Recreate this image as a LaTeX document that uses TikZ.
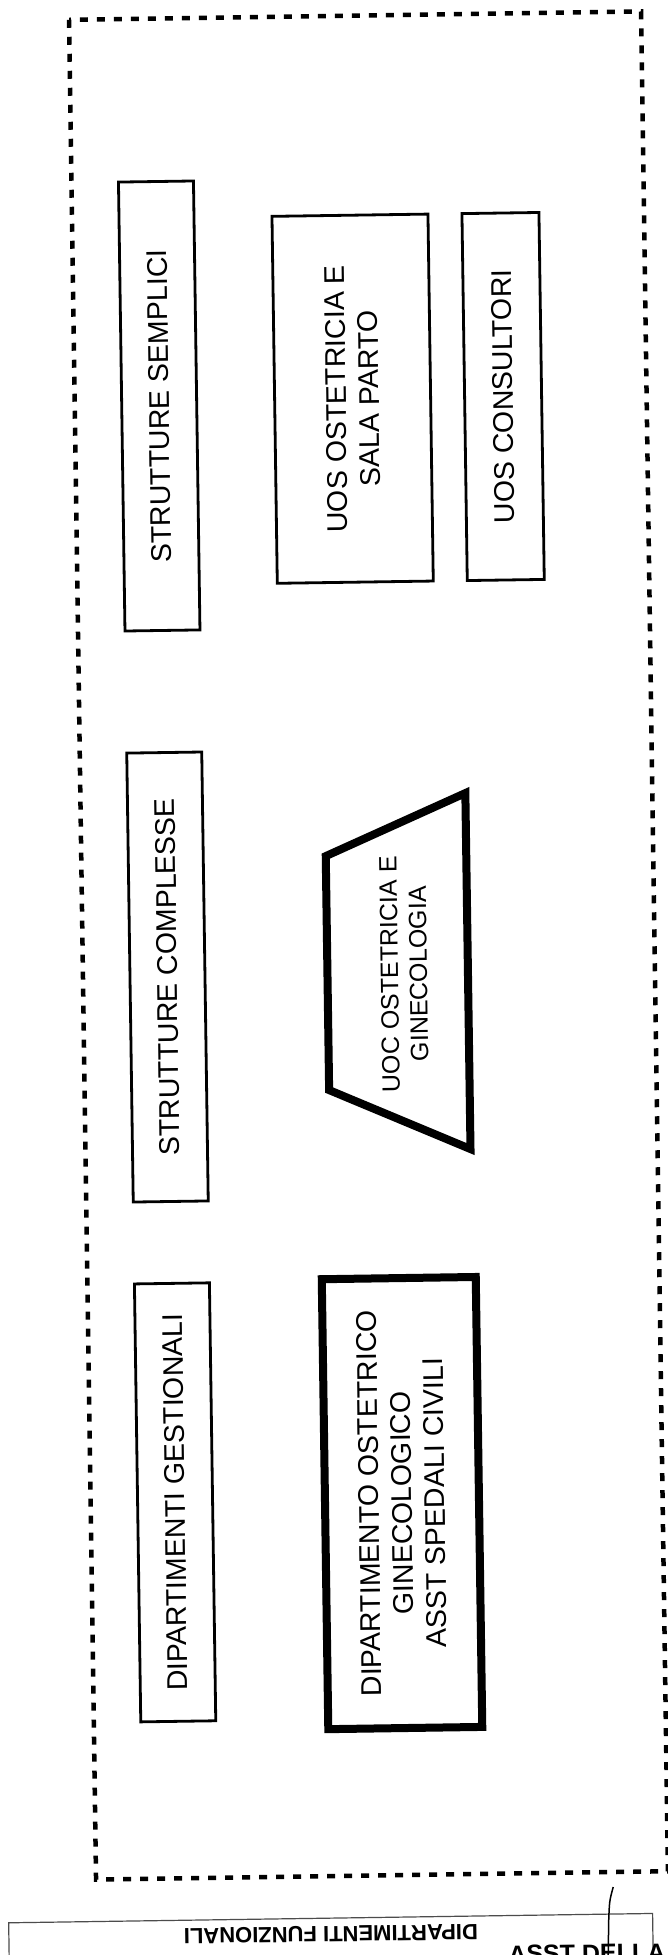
\documentclass[tikz,border=0pt]{standalone}
\usepackage{fontspec}
\setmainfont{Liberation Sans}
\begin{document}
\begin{tikzpicture}[x=1pt,y=-1pt,
  lbl/.style={font=\fontsize{28.5}{33}\selectfont,align=center,inner sep=0pt},
  box/.style={lbl,draw,line width=2.8pt,rotate=90,transform shape},
  heavy/.style={box,line width=8pt},
  frame/.style={line width=4.5pt,dash pattern=on 8pt off 9pt},
  sheet/.style={line width=1.2pt,black!70}]
  \clip (0,0) rectangle (668,1955);
  \fill[white] (0,0) rectangle (668,1955);
  \begin{scope}[rotate around={0.83:(334,977)}]
    \draw[frame] (83,16) rectangle (655,1876);
    % colonna di sinistra
    \node[box,minimum width=449pt,minimum height=75pt] (semplici) at (167.5,403.5) {STRUTTURE SEMPLICI};
    \node[box,minimum width=449pt,minimum height=75pt] (complesse) at (167.5,974.6) {STRUTTURE COMPLESSE};
    \node[box,minimum width=438pt,minimum height=75pt] (gestionali) at (167.5,1500) {DIPARTIMENTI GESTIONALI};
    % strutture
    \node[box,minimum width=367pt,minimum height=156pt] (uosost) at (361,399) {UOS OSTETRICIA E\\SALA PARTO};
    \node[box,minimum width=367pt,minimum height=77pt] (uoscons) at (511.5,399) {UOS CONSULTORI};
    \draw[line width=8pt,line join=miter] (468,795) -- (327.5,856) -- (327.5,1090) -- (468,1151) -- cycle;
    \node[lbl,font=\fontsize{25}{29}\selectfont,rotate=90,transform shape] (uocost) at (404,975) {UOC OSTETRICIA E\\GINECOLOGIA};
    \node[heavy,minimum width=450pt,minimum height=154pt] (dipost) at (394.4,1504) {DIPARTIMENTO OSTETRICO\\GINECOLOGICO\\ASST SPEDALI CIVILI};
    % foglio sotto
    \draw[sheet] (-5,2000) |- (639,1918) -- (639,2000);
    \node[font=\bfseries\fontsize{22}{24}\selectfont,rotate=180,transform shape,inner sep=0pt] (funz) at (317,1934) {DIPARTIMENTI FUNZIONALI};
    \node[font=\bfseries\fontsize{25}{28}\selectfont,anchor=north west,inner sep=0pt,transform shape] (asst) at (494,1948) {ASST DELLA V};
    \draw[line width=1.5pt] (600,1891) .. controls (596,1905) .. (595,1925) -- (594,1960);
  \end{scope}
\end{tikzpicture}
\end{document}
